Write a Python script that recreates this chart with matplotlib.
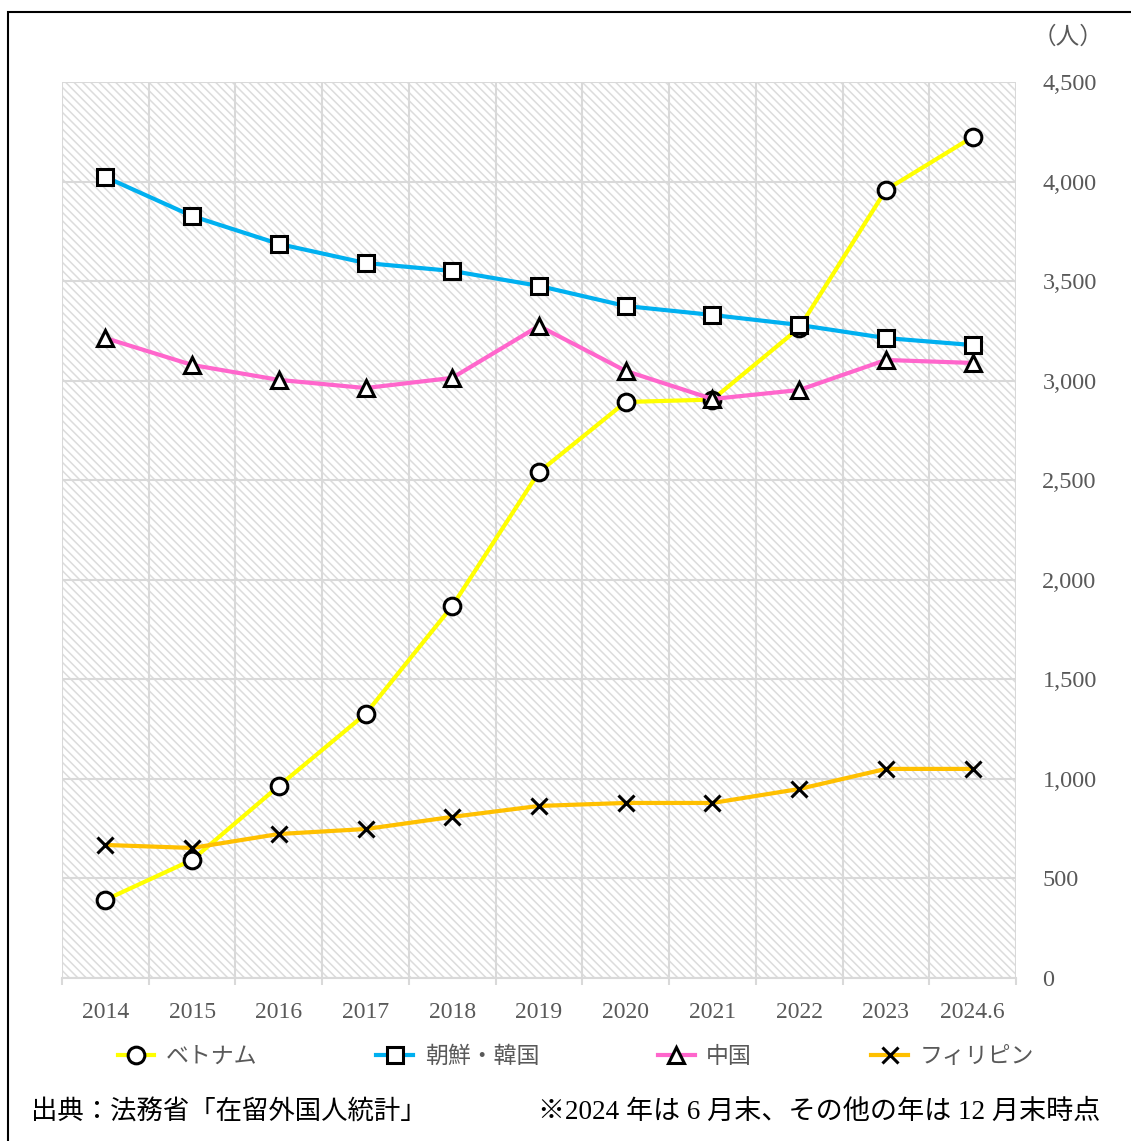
import matplotlib.pyplot as plt
from matplotlib.patches import Rectangle

plt.rcParams['font.family'] = ['Liberation Serif', 'Noto Sans CJK JP', 'DejaVu Sans']
plt.rcParams['hatch.color'] = '#dcdcdc'
plt.rcParams['hatch.linewidth'] = 1.1

years = ['2014', '2015', '2016', '2017', '2018', '2019', '2020', '2021', '2022', '2023', '2024.6']

vietnam = [392, 593, 964, 1326, 1868, 2541, 2893, 2905, 3265, 3958, 4224]
korea = [4023, 3827, 3687, 3591, 3551, 3476, 3375, 3330, 3280, 3214, 3179]
china = [3214, 3079, 3004, 2963, 3014, 3275, 3049, 2908, 2953, 3104, 3089]
philippines = [668, 653, 723, 748, 809, 864, 879, 879, 949, 1050, 1050]

series = [
    ('ベトナム', vietnam, '#ffff00', 'o'),
    ('朝鮮・韓国', korea, '#00b0f0', 's'),
    ('中国', china, '#ff66cc', '^'),
    ('フィリピン', philippines, '#ffc000', 'x'),
]

fig = plt.figure(figsize=(11.31, 11.41), dpi=100)
ax = fig.add_axes([0.0548, 0.1429, 0.8435, 0.7852])

x = list(range(len(years)))

# hatched background
bg = Rectangle((0, 0), 1, 1, transform=ax.transAxes, facecolor='white',
               edgecolor='#dcdcdc', hatch='\\\\\\\\', linewidth=0, zorder=0)
ax.add_patch(bg)

for name, vals, col, mk in series:
    if mk == 'x':
        ax.plot(x, vals, color=col, lw=3, marker=mk, markersize=11,
                markeredgecolor='black', markeredgewidth=2.2, label=name, zorder=3)
    else:
        ax.plot(x, vals, color=col, lw=3, marker=mk, markersize=12,
                markerfacecolor='white', markeredgecolor='black',
                markeredgewidth=2.2, label=name, zorder=3)

ax.set_xlim(-0.5, len(years) - 0.5)
ax.set_ylim(0, 4500)
ax.set_yticks(range(0, 4501, 500))
ax.set_yticklabels([f'{v:,}' for v in range(0, 4501, 500)])
ax.yaxis.tick_right()
ax.tick_params(axis='y', length=0, pad=19, labelsize=17.5, labelcolor='#595959')

ax.set_xticks(x)
ax.set_xticklabels(years)
ax.set_xticks([i - 0.5 for i in range(len(years) + 1)], minor=True)
ax.tick_params(axis='x', which='major', length=0, pad=17, labelsize=17, labelcolor='#595959')
ax.tick_params(axis='x', which='minor', length=5, width=1.5, color='#d9d9d9')

for v in range(0, 4501, 500):
    ax.axhline(v, color='#d9d9d9', lw=1.5, zorder=1)
for i in range(len(years) + 1):
    ax.axvline(i - 0.5, color='#d9d9d9', lw=1.5, zorder=1)

for s in ['top', 'right', 'left']:
    ax.spines[s].set_visible(False)
ax.spines['bottom'].set_color('#d9d9d9')
ax.spines['bottom'].set_linewidth(1.5)

fig.text(0.976, 0.967, '（人）', ha='right', va='center', fontsize=17, color='#595959')

leg = fig.legend(loc='center', bbox_to_anchor=(0.509, 0.0736), ncol=4, frameon=False,
                 fontsize=16.5, handlelength=1.6, handletextpad=0.5, columnspacing=5.2)
for t in leg.get_texts():
    t.set_color('#595959')

fig.text(0.027, 0.025, '出典：法務省「在留外国人統計」', ha='left', va='center', fontsize=19)
fig.text(0.973, 0.025, '※2024 年は 6 月末、その他の年は 12 月末時点', ha='right', va='center', fontsize=19.5)

border = Rectangle((8 / 1131, -0.1), 1.2, 1.1 - 12 / 1141, transform=fig.transFigure,
                   fill=False, edgecolor='black', linewidth=1.5, clip_on=False)
fig.patches.append(border)

fig.savefig('out.png', dpi=100)
